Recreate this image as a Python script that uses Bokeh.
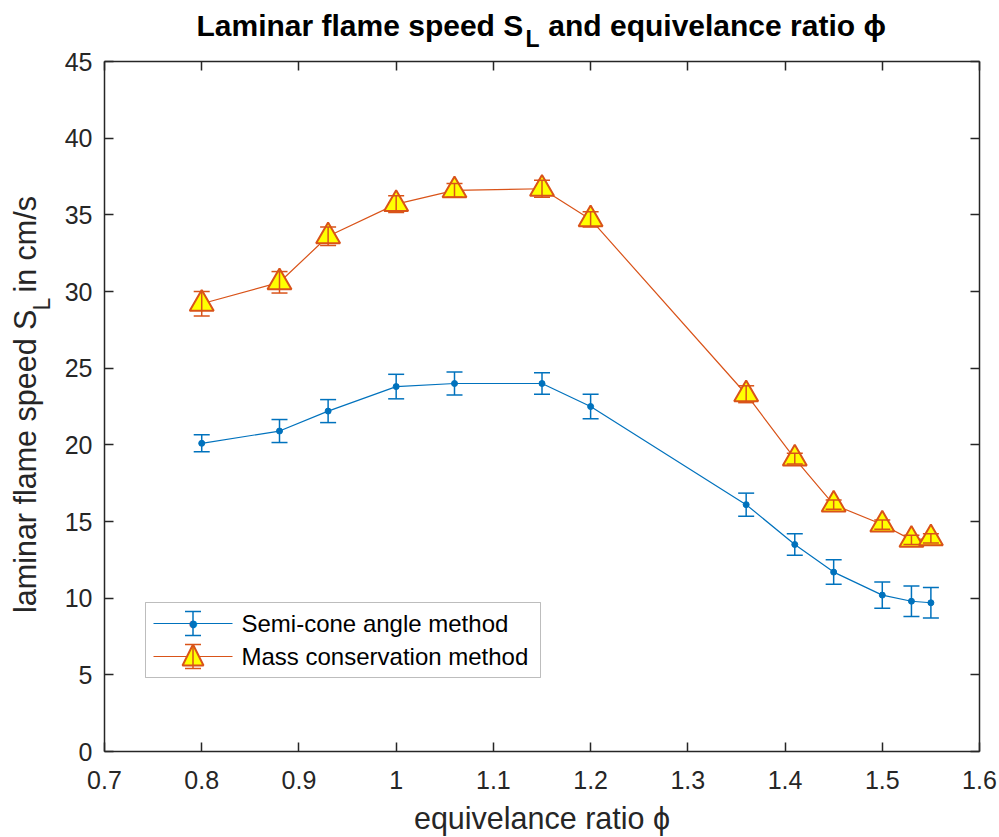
import numpy as np
from bokeh.plotting import figure
from bokeh.models import (ColumnDataSource, Whisker, TeeHead, FixedTicker, LinearAxis,
                          Label, BoxAnnotation, Arrow, NormalHead)
from bokeh.embed import file_html
from bokeh.resources import INLINE

# ---------------- data ----------------
phi = [0.8, 0.88, 0.93, 1.0, 1.06, 1.15, 1.2, 1.36, 1.41, 1.45, 1.5, 1.53, 1.55]
sl_semicone = [20.1, 20.9, 22.2, 23.8, 24.0, 24.0, 22.5, 16.1, 13.5, 11.7, 10.2, 9.8, 9.7]
err_semicone = [0.55, 0.75, 0.75, 0.8, 0.75, 0.7, 0.8, 0.75, 0.7, 0.8, 0.85, 1.0, 1.0]
sl_mass = [29.2, 30.6, 33.6, 35.7, 36.6, 36.7, 34.7, 23.3, 19.1, 16.1, 14.8, 13.8, 13.9]
err_mass = [0.8, 0.7, 0.6, 0.55, 0.45, 0.55, 0.5, 0.55, 0.35, 0.3, 0.3, 0.3, 0.3]

series_names = ["Semi-cone angle method", "Mass conservation method"]
x_ticks = [0.7, 0.8, 0.9, 1.0, 1.1, 1.2, 1.3, 1.4, 1.5, 1.6]
x_tick_labels = ["0.7", "0.8", "0.9", "1", "1.1", "1.2", "1.3", "1.4", "1.5", "1.6"]
y_ticks = [0, 5, 10, 15, 20, 25, 30, 35, 40, 45]
y_tick_labels = ["0", "5", "10", "15", "20", "25", "30", "35", "40", "45"]

title_main = "Laminar flame speed S\u00a0\u00a0\u00a0and equivelance ratio \u03d5"
title_sub = "L"
xlabel_text = "equivelance ratio \u03d5"
ylabel_main = "laminar flame speed S\u00a0\u00a0in cm/s"
ylabel_sub = "L"

# ---------------- styles ----------------
BLUE = "#0072BD"
ORANGE = "#D95319"
YELLOW = "#FFFF00"
AX = "#262626"
FONT = "Liberation Sans"
TICK_FS = "25px"
LAB_FS = "30.5px"
TITLE_FS = "30px"
SUB_FS = "23px"
LEG_FS = "24px"

W, H = 999, 837
X0, X1, Y0, Y1 = 0.7, 1.6, 0, 45
FL, FT, FW, FH = 104, 61, 875, 690   # frame position in page pixels


def xd(px):
    return X0 + (px - FL) / FW * (X1 - X0)


def yd(py):
    return Y0 + (FT + FH - py) / FH * (Y1 - Y0)


p = figure(width=W, height=H, x_range=(X0, X1), y_range=(Y0, Y1),
           output_backend="svg", toolbar_location=None,
           min_border_left=FL, min_border_right=W - FL - FW, min_border_top=FT,
           min_border_bottom=H - FT - FH)
p.grid.visible = False
p.outline_line_color = None
p.background_fill_color = "white"
p.border_fill_color = "white"


def style_axis(ax, ticks, labels, show_labels=True, standoff=10):
    ax.ticker = FixedTicker(ticks=ticks)
    ax.major_label_overrides = {t: (l if show_labels else "") for t, l in zip(ticks, labels)}
    ax.major_tick_in = 9
    ax.major_tick_out = 0
    ax.minor_tick_line_color = None
    ax.major_tick_line_color = AX
    ax.major_tick_line_width = 1.5
    ax.axis_line_color = AX
    ax.axis_line_width = 1.5
    ax.major_label_text_font = FONT
    ax.major_label_text_font_size = TICK_FS if show_labels else "0px"
    ax.major_label_text_color = AX
    ax.major_label_standoff = standoff if show_labels else 0


style_axis(p.xaxis[0], x_ticks, x_tick_labels, standoff=19)
style_axis(p.yaxis[0], y_ticks, y_tick_labels, standoff=12)
top_ax = LinearAxis()
right_ax = LinearAxis()
style_axis(top_ax, x_ticks, x_tick_labels, False)
style_axis(right_ax, y_ticks, y_tick_labels, False)
p.add_layout(top_ax, "above")
p.add_layout(right_ax, "right")

# ---------------- data sources ----------------
src_b = ColumnDataSource(dict(x=phi, y=sl_semicone,
                              lo=[v - e for v, e in zip(sl_semicone, err_semicone)],
                              hi=[v + e for v, e in zip(sl_semicone, err_semicone)]))
src_o = ColumnDataSource(dict(x=phi, y=sl_mass,
                              lo=[v - e for v, e in zip(sl_mass, err_mass)],
                              hi=[v + e for v, e in zip(sl_mass, err_mass)]))

# blue series
p.line("x", "y", source=src_b, line_color=BLUE, line_width=1.2)
p.scatter("x", "y", source=src_b, marker="circle", size=6, fill_color=BLUE, line_color=BLUE)
p.add_layout(Whisker(source=src_b, base="x", lower="lo", upper="hi", dimension="height",
                     line_color=BLUE, line_width=1.5, level="annotation",
                     upper_head=TeeHead(size=16, line_color=BLUE, line_width=1.5),
                     lower_head=TeeHead(size=16, line_color=BLUE, line_width=1.5)))

# orange series
p.line("x", "y", source=src_o, line_color=ORANGE, line_width=1.2)
p.scatter("x", "y", source=src_o, marker="triangle", size=24, fill_color=YELLOW,
          line_color=ORANGE, line_width=2)
p.add_layout(Whisker(source=src_o, base="x", lower="lo", upper="hi", dimension="height",
                     line_color=ORANGE, line_width=1.5, level="annotation",
                     upper_head=TeeHead(size=16, line_color=ORANGE, line_width=1.5),
                     lower_head=TeeHead(size=16, line_color=ORANGE, line_width=1.5)))

# ---------------- legend (manual, screen units relative to frame) ----------------
p.add_layout(BoxAnnotation(left=41, right=436, bottom=74, top=149,
                           left_units="screen", right_units="screen",
                           bottom_units="screen", top_units="screen",
                           fill_color="white", fill_alpha=1.0,
                           line_color=AX, line_width=1, level="annotation"))

leg_rows = [128, 95]
leg_x0, leg_x1, leg_xc = 49, 128, 88.5
leg_colors = [BLUE, ORANGE]
for row_y, col, name in zip(leg_rows, leg_colors, series_names):
    hs = ColumnDataSource(dict(b=[row_y], l=[leg_x0], u=[leg_x1]))
    p.add_layout(Whisker(source=hs, base="b", lower="l", upper="u", dimension="width",
                         base_units="screen", lower_units="screen", upper_units="screen",
                         line_color=col, line_width=1.2, upper_head=None, lower_head=None,
                         level="annotation"))
    if col == ORANGE:
        ts = ColumnDataSource(dict(x0=[leg_xc], y0=[row_y - 10], x1=[leg_xc], y1=[row_y + 12]))
        p.add_layout(Arrow(source=ts, x_start="x0", y_start="y0", x_end="x1", y_end="y1",
                           start_units="screen", end_units="screen", line_alpha=0,
                           end=NormalHead(size=21, fill_color=YELLOW, line_color=ORANGE,
                                          line_width=2), level="annotation"))
    else:
        p.add_layout(Label(x=leg_xc, y=row_y, x_units="screen", y_units="screen",
                           text="\u25CF", text_color=BLUE, text_font="DejaVu Sans",
                           text_font_size="10px", text_align="center",
                           text_baseline="middle", level="annotation"))
    es = ColumnDataSource(dict(b=[leg_xc], l=[row_y - 12], u=[row_y + 12]))
    p.add_layout(Whisker(source=es, base="b", lower="l", upper="u", dimension="height",
                         base_units="screen", lower_units="screen", upper_units="screen",
                         line_color=col, line_width=1.5, level="annotation",
                         upper_head=TeeHead(size=16, line_color=col, line_width=1.5),
                         lower_head=TeeHead(size=16, line_color=col, line_width=1.5)))
    p.add_layout(Label(x=137, y=row_y, x_units="screen", y_units="screen", text=name,
                       text_color="black", text_font=FONT, text_font_size=LEG_FS,
                       text_align="left", text_baseline="middle", level="annotation"))


# ---------------- title / axis labels: labels in the side panels ----------------
def side_label(side, px, py, text, size, style="normal", align="left", color="black",
               angle=0.0):
    p.add_layout(Label(x=xd(px), y=yd(py), text=text, text_font=FONT,
                       text_font_size=size, text_font_style=style, text_color=color,
                       text_align=align, text_baseline="middle", angle=angle), side)


side_label("above", 196, 25, title_main, TITLE_FS, "bold")
side_label("above", 525, 38, title_sub, SUB_FS, "bold")
side_label("below", 541.5, 817, xlabel_text, LAB_FS, color=AX, align="center")
side_label("left", 24, 404, ylabel_main, LAB_FS, color=AX, align="center", angle=np.pi / 2)
side_label("left", 41, 310, ylabel_sub, SUB_FS, color=AX, angle=np.pi / 2)

open("out.html", "w").write(file_html(p, INLINE))
